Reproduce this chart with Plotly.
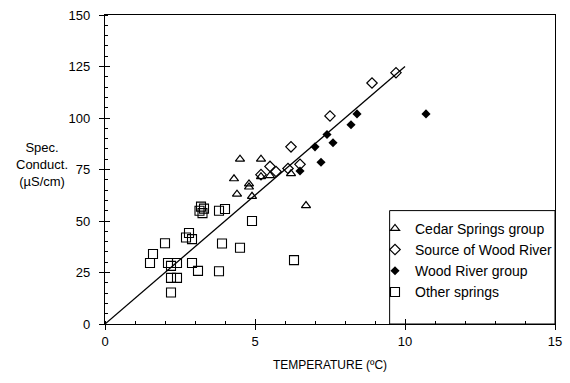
import plotly.graph_objects as go

# ---- data ----
cedar_x = [4.3, 4.4, 4.5, 4.8, 4.8, 4.9, 5.2, 5.2, 5.5, 6.2, 6.7]
cedar_y = [70.5, 63.0, 80.0, 68.0, 66.5, 62.0, 80.0, 71.5, 72.0, 73.0, 57.5]

source_x = [5.2, 5.5, 5.7, 6.1, 6.2, 6.5, 7.5, 8.9, 9.7]
source_y = [72.5, 76.5, 74.0, 75.5, 86.0, 77.5, 101.0, 117.0, 122.0]

wood_x = [6.5, 7.0, 7.2, 7.4, 7.6, 8.2, 8.4, 10.7]
wood_y = [74.3, 86.0, 78.5, 92.0, 88.0, 96.7, 102.0, 102.0]

other_x = [1.5, 1.6, 2.0, 2.1, 2.2, 2.2, 2.2, 2.4, 2.4, 2.7, 2.8, 2.9, 2.9,
           3.1, 3.15, 3.2, 3.25, 3.3, 3.8, 3.8, 3.9, 4.0, 4.5, 4.9, 6.3]
other_y = [29.6, 34.0, 39.2, 29.6, 28.2, 22.4, 15.3, 29.6, 22.4, 42.0, 44.2, 41.2, 29.6,
           25.8, 55.0, 57.0, 53.8, 56.0, 55.0, 25.6, 39.1, 55.8, 37.0, 50.0, 31.0]

fit_x = [0.0, 10.0]
fit_y = [0.0, 125.0]

x_ticks = [0, 5, 10, 15]
y_ticks = [0, 25, 50, 75, 100, 125, 150]

FONT = "Liberation Sans, Arial, Helvetica, sans-serif"

fig = go.Figure()

fig.add_trace(go.Scatter(x=fit_x, y=fit_y, mode="lines", line=dict(color="black", width=1.3),
                         showlegend=False, hoverinfo="skip"))
fig.add_trace(go.Scatter(x=cedar_x, y=cedar_y, mode="markers", name="Cedar Springs group",
                         marker=dict(symbol="triangle-up-open", size=8, color="black",
                                     line=dict(width=1.2, color="black"))))
fig.add_trace(go.Scatter(x=source_x, y=source_y, mode="markers", name="Source of Wood River",
                         marker=dict(symbol="diamond-open", size=8, color="black",
                                     line=dict(width=1.2, color="black"))))
fig.add_trace(go.Scatter(x=wood_x, y=wood_y, mode="markers", name="Wood River group",
                         marker=dict(symbol="diamond", size=7, color="black",
                                     line=dict(width=0, color="black"))))
fig.add_trace(go.Scatter(x=other_x, y=other_y, mode="markers", name="Other springs",
                         marker=dict(symbol="square-open", size=9, color="black",
                                     line=dict(width=1.1, color="black"))))

# overlay axes to draw the inner half of the crossing major ticks
fig.add_trace(go.Scatter(x=[None], y=[None], xaxis="x2", yaxis="y2", showlegend=False, hoverinfo="skip"))

axis_common = dict(showgrid=False, zeroline=False, showline=True, linecolor="black", linewidth=1.2,
                   ticks="outside", ticklen=5, tickwidth=1.2, tickcolor="black",
                   tickfont=dict(family=FONT, size=13, color="black"), mirror=True)

fig.update_layout(
    width=570, height=383,
    margin=dict(l=104.5, r=12.5, t=8, b=59),
    paper_bgcolor="white", plot_bgcolor="white",
    font=dict(family=FONT, color="black"),
    xaxis=dict(range=[0, 15], tickvals=x_ticks, **axis_common,
               minor=dict(dtick=1, ticks="inside", ticklen=3, tickwidth=1, tickcolor="black"),
               title=dict(text="TEMPERATURE (ºC)", font=dict(family=FONT, size=12, color="black"),
                          standoff=12)),
    yaxis=dict(range=[0, 150], tickvals=y_ticks, **axis_common, ticklabelstandoff=6,
               minor=dict(dtick=5, ticks="inside", ticklen=3, tickwidth=1, tickcolor="black")),
    xaxis2=dict(overlaying="x", range=[0, 15], tickvals=x_ticks, ticks="inside", ticklen=5,
                tickwidth=1.2, tickcolor="black", showticklabels=False, showgrid=False,
                zeroline=False, showline=False),
    yaxis2=dict(overlaying="y", range=[0, 150], tickvals=y_ticks, ticks="inside", ticklen=5,
                tickwidth=1.2, tickcolor="black", showticklabels=False, showgrid=False,
                zeroline=False, showline=False),
    legend=dict(x=0.60, y=0.36, xanchor="left", yanchor="top",
                bgcolor="rgba(0,0,0,0)", borderwidth=0,
                font=dict(family=FONT, size=14, color="black"),
                itemwidth=30, tracegroupgap=0),
    shapes=[dict(type="rect", xref="paper", yref="paper", x0=0.6325, x1=1.0, y0=0.0, y1=0.367,
                 line=dict(color="black", width=1), fillcolor="rgba(0,0,0,0)", layer="above")],
    annotations=[dict(text="Spec.<br>Conduct.<br>(µS/cm)", xref="paper", yref="paper",
                      x=-0.139, y=0.515, xanchor="center", yanchor="middle", showarrow=False,
                      align="center", font=dict(family=FONT, size=13, color="black"))],
)

fig.write_html("out.html", config={"displayModeBar": False},
               post_script="document.body.style.margin='0';document.body.style.overflow='hidden';")
